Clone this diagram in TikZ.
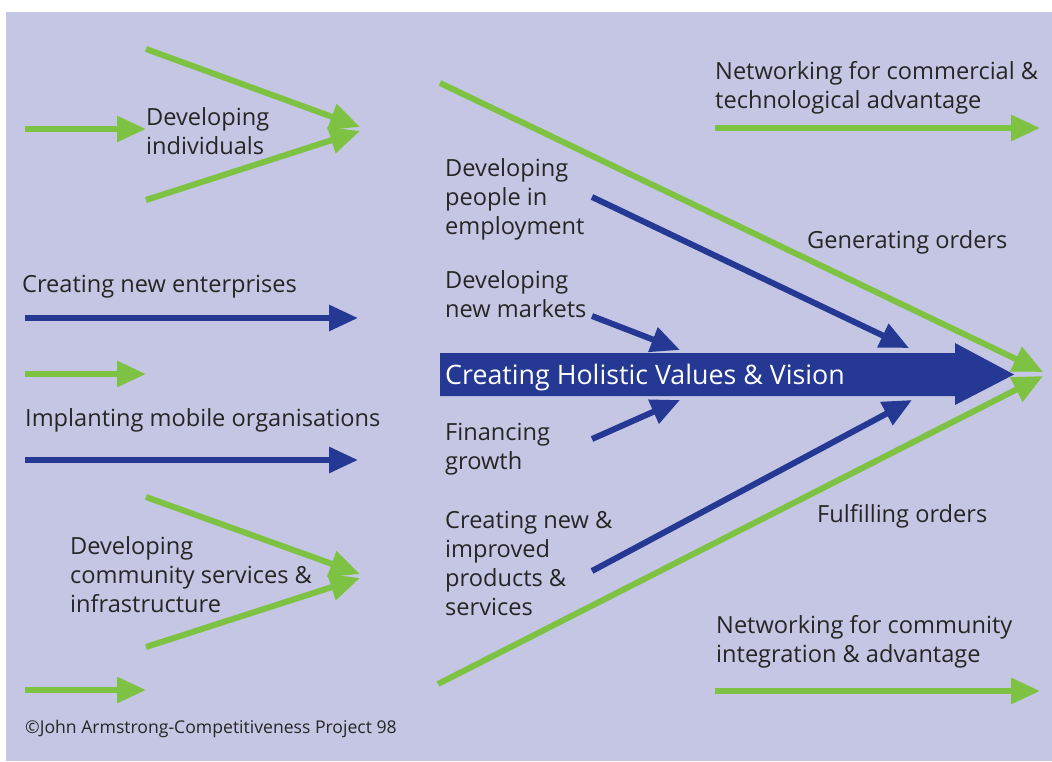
\documentclass[tikz,border=0pt]{standalone}
\usepackage{fontspec}
\setmainfont{Open Sans}
\usetikzlibrary{arrows.meta}
\definecolor{bgl}{RGB}{197,198,227}
\definecolor{grn}{RGB}{125,194,66}
\definecolor{blu}{RGB}{37,56,148}
\tikzset{
  lbl/.style={anchor=base west,inner sep=0pt,align=left,text=black!85,font=\fontsize{23.6pt}{29pt}\selectfont},
  garr/.style={draw=grn,line width=6pt,-{Triangle[length=29pt,width=25pt]}},
  barr/.style={draw=blu,line width=6pt,-{Triangle[length=29pt,width=25pt]}},
  gline/.style={draw=grn,line width=6pt,-{Triangle[length=30pt,width=26pt]}},
}
\begin{document}
\begin{tikzpicture}[x=1pt,y=-1pt]
\useasboundingbox (0,0) rectangle (1052,761);
\fill[white] (0,0) rectangle (1052,761);
\fill[bgl] (6,12) rectangle (1052,761);
% coordinates
\coordinate (a1s) at (25,129); \coordinate (a1e) at (146,129);
\coordinate (d1s) at (146,49); \coordinate (d1e) at (360,127);
\coordinate (d2s) at (146,200); \coordinate (d2e) at (360,131);
\coordinate (b1s) at (25,318); \coordinate (b1e) at (358,318);
\coordinate (a2s) at (25,374); \coordinate (a2e) at (146,374);
\coordinate (b2s) at (25,460); \coordinate (b2e) at (358,460);
\coordinate (d3s) at (146,497); \coordinate (d3e) at (360,574);
\coordinate (d4s) at (146,647); \coordinate (d4e) at (360,578);
\coordinate (a3s) at (25,690); \coordinate (a3e) at (146,690);
\coordinate (g1s) at (440,83); \coordinate (g1e) at (1043,372);
\coordinate (g2s) at (438,684); \coordinate (g2e) at (1043,376);
\coordinate (e1s) at (592,197); \coordinate (e1e) at (909,348);
\coordinate (e2s) at (592,316); \coordinate (e2e) at (680,350);
\coordinate (e3s) at (592,439); \coordinate (e3e) at (680,400);
\coordinate (e4s) at (592,571); \coordinate (e4e) at (912,400);
\coordinate (r1s) at (715,128); \coordinate (r1e) at (1040,128);
\coordinate (r2s) at (715,691); \coordinate (r2e) at (1040,691);
% big arrow
\fill[blu] (440,353) -- (955,353) -- (955,343) -- (1014,374.5) -- (955,405) -- (955,396) -- (440,396) -- cycle;
\node[anchor=base west,inner sep=0pt,text=white,font=\fontsize{26.8pt}{29pt}\selectfont] (holistic) at (445,384) {Creating Holistic Values \& Vision};
% arrows
\draw[garr] (a1s) -- (a1e);
\draw[gline] (d1s) -- (d1e);
\draw[gline] (d2s) -- (d2e);
\draw[barr] (b1s) -- (b1e);
\draw[garr] (a2s) -- (a2e);
\draw[barr] (b2s) -- (b2e);
\draw[gline] (d3s) -- (d3e);
\draw[gline] (d4s) -- (d4e);
\draw[garr] (a3s) -- (a3e);
\draw[gline] (g1s) -- (g1e);
\draw[gline] (g2s) -- (g2e);
\draw[barr] (e1s) -- (e1e);
\draw[barr] (e2s) -- (e2e);
\draw[barr] (e3s) -- (e3e);
\draw[barr] (e4s) -- (e4e);
\draw[garr] (r1s) -- (r1e);
\draw[garr] (r2s) -- (r2e);
% labels (base anchor = baseline of last line)
\node[lbl] (t1) at (146,154) {Developing\\individuals};
\node[lbl] (t2) at (22,292) {Creating new enterprises};
\node[lbl] (t3) at (25,426) {Implanting mobile organisations};
\node[lbl] (t4) at (70,612) {Developing\\community services \&\\infrastructure};
\node[lbl] (t5) at (445,234) {Developing\\people in\\employment};
\node[lbl] (t6) at (445,317) {Developing\\new markets};
\node[lbl] (t7) at (445,469) {Financing\\growth};
\node[lbl] (t8) at (445,615) {Creating new \&\\improved\\products \&\\services};
\node[lbl] (t9) at (715,108) {Networking for commercial \&\\technological advantage};
\node[lbl] (t10) at (807,248) {Generating orders};
\node[lbl] (t11) at (817,522) {Fulfilling orders};
\node[lbl] (t12) at (716,662) {Networking for community\\integration \& advantage};
\node[anchor=base west,inner sep=0pt,text=black!85,font=\fontsize{17.6pt}{20pt}\selectfont] (copy) at (25,733) {©John Armstrong-Competitiveness Project 98};
\end{tikzpicture}
\end{document}
